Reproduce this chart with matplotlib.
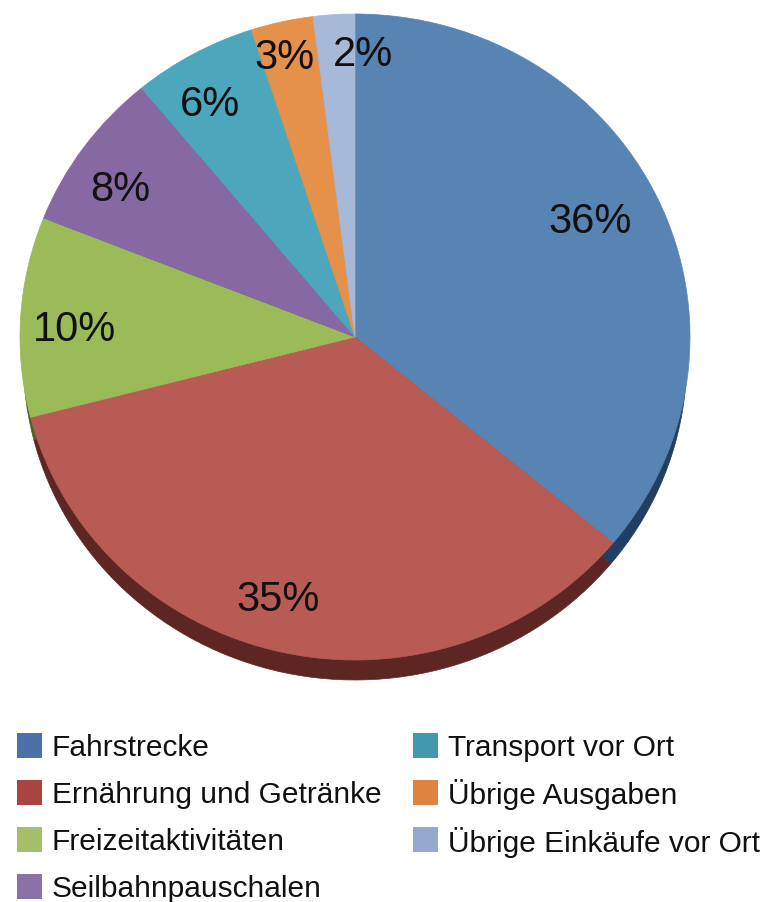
import matplotlib
matplotlib.use("Agg")
import matplotlib.pyplot as plt
from matplotlib.patches import Rectangle

categories = ["Fahrstrecke", "Ernährung und Getränke", "Freizeitaktivitäten",
              "Seilbahnpauschalen", "Transport vor Ort", "Übrige Ausgaben",
              "Übrige Einkäufe vor Ort"]
values = [36, 35, 10, 8, 6, 3, 2]

face_colors = ["#5884B3", "#B85B55", "#9BBB59", "#8669A3", "#4DA7BC", "#E5914A", "#A7B9D9"]
depth_colors = ["#203F62", "#5E2622", "#4E6128", "#3F3152", "#21566A", "#7A4310", "#4E5E78"]
legend_colors = ["#4A72A8", "#A84444", "#A6BF6A", "#8A72A8", "#4298AE", "#DE8440", "#95A9CF"]

# label positions (layout) in axes data units
label_xy = [(0.701, 0.356), (-0.230, -0.814), (-0.836, 0.022), (-0.701, 0.455),
            (-0.433, 0.718), (-0.209, 0.864), (0.024, 0.873)]

FONT = ["Liberation Sans", "DejaVu Sans"]
plt.rcParams["font.family"] = FONT

W, H = 767, 902
fig = plt.figure(figsize=(W / 100, H / 100), dpi=100)

# pie face spans x 20..690, y 14..660 (px); depth to ~680
depth = 20 / 323
left_px, right_px, top_px, bot_px = 20, 690, 14, 680
ax = fig.add_axes([left_px / W, (H - bot_px) / H, (right_px - left_px) / W, (bot_px - top_px) / H])

# depth (side) layer, slightly narrower so it only shows along the bottom
dr = 0.99
ax.pie(values, colors=depth_colors, startangle=90, counterclock=False,
       center=(0, -depth - (1 - dr)), radius=dr, frame=True,
       wedgeprops=dict(linewidth=0.5))
for w in ax.patches:
    w.set_edgecolor(w.get_facecolor())
n_depth = len(ax.patches)
# top face
ax.pie(values, colors=face_colors, startangle=90, counterclock=False,
       center=(0, 0), radius=1, frame=True,
       wedgeprops=dict(linewidth=0.5))
for w in ax.patches[n_depth:]:
    w.set_edgecolor(w.get_facecolor())
ax.set_xlim(-1, 1)
ax.set_ylim(-1 - depth, 1)
ax.set_aspect("auto")
ax.axis("off")

for v, (x, y) in zip(values, label_xy):
    ax.text(x, y, f"{v}%", ha="center", va="center", fontsize=30, color="#111111",
            family=FONT)

# legend (manual layout)
col_x = [17, 413]
text_x = [52, 448]
row_y = [745, 792, 839, 886]
sq = 25
for i, (cat, col) in enumerate(zip(categories, legend_colors)):
    c = 0 if i < 4 else 1
    r = i if i < 4 else i - 4
    x0 = col_x[c]
    yc = row_y[r]
    fig.patches.append(Rectangle((x0 / W, (H - yc - sq / 2) / H), sq / W, sq / H,
                                 transform=fig.transFigure, facecolor=col,
                                 edgecolor="none"))
    fig.text(text_x[c] / W, (H - yc) / H, cat, ha="left", va="center_baseline",
             fontsize=21.5, color="#111111", family=FONT)

fig.savefig("out.png", dpi=100)
